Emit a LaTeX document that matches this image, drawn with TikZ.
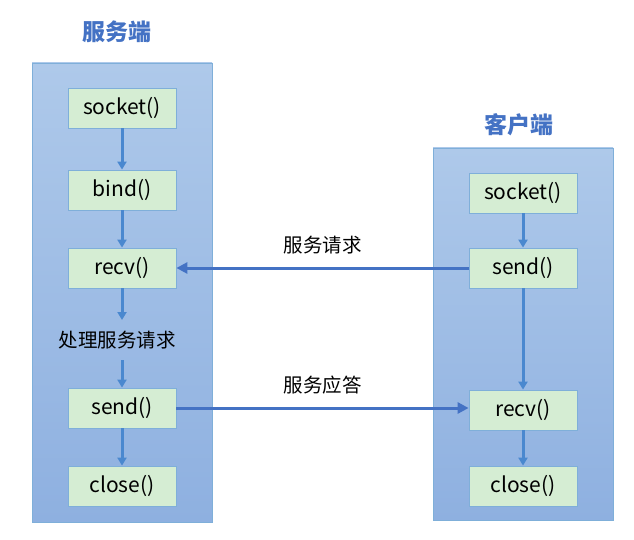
\documentclass[tikz,border=0pt]{standalone}
\usepackage{fontspec}
\setmainfont{Noto Sans CJK SC}
\usetikzlibrary{arrows.meta}
\definecolor{panA}{HTML}{AEC9EA}
\definecolor{panB}{HTML}{8EB0E0}
\definecolor{boxG}{HTML}{D5EDD3}
\definecolor{boxE}{HTML}{7FAFD9}
\definecolor{arr}{HTML}{4A88CF}
\definecolor{ttl}{HTML}{4472C4}
\begin{document}
\begin{tikzpicture}[x=1pt,y=-1pt,
  panel/.style={top color=panA,bottom color=panB},
  fn/.style={draw=boxE,line width=0.8pt,fill=boxG,minimum width=108pt,minimum height=40pt,font=\fontsize{21}{24}\selectfont,inner sep=0pt},
  ttl/.style={text=ttl,font=\bfseries\fontsize{23}{26}\selectfont},
  lab/.style={font=\fontsize{19.5}{22}\selectfont},
  ar/.style={draw=arr,line width=3pt,-{Triangle[length=8pt,width=9pt]}},
  har/.style={draw=ttl,line width=3pt,-{Triangle[length=11pt,width=11pt]}}]
\useasboundingbox (0,0) rectangle (634,540);
\fill[panel] (32,63) rectangle (212,522);
\fill[panel] (433,148) rectangle (613,520);
\draw[boxE] (32,63) rectangle (212,522) (433,148) rectangle (613,520);
\node[ttl] (t1) at (117,32) {服务端};
\node[ttl] (t2) at (519,125) {客户端};
\node[fn] (s1) at (122,108) {socket()};
\node[fn] (s2) at (122,190) {bind()};
\node[fn] (s3) at (122,268) {recv()};
\node[lab] (p) at (117,340) {处理服务请求};
\node[fn] (s4) at (122,408) {send()};
\node[fn] (s5) at (122,486) {close()};
\node[fn] (c1) at (523,193) {socket()};
\node[fn] (c2) at (523,268) {send()};
\node[fn] (c3) at (523,410) {recv()};
\node[fn] (c4) at (523,486) {close()};
\draw[ar] (s1) -- (s2);
\draw[ar] (s2) -- (s3);
\draw[ar] (s3.south) -- (122,320);
\draw[ar] (122,360) -- (s4.north);
\draw[ar] (s4) -- (s5);
\draw[ar] (c1) -- (c2);
\draw[ar] (c2) -- (c3);
\draw[ar] (c3) -- (c4);
\draw[har] (c2.west) -- (s3.east) node[midway,above=9pt,lab,text=black] {服务请求};
\draw[har] (s4.east) -- (c3.west |- s4.east) node[midway,above=9pt,lab,text=black] {服务应答};
\end{tikzpicture}
\end{document}
